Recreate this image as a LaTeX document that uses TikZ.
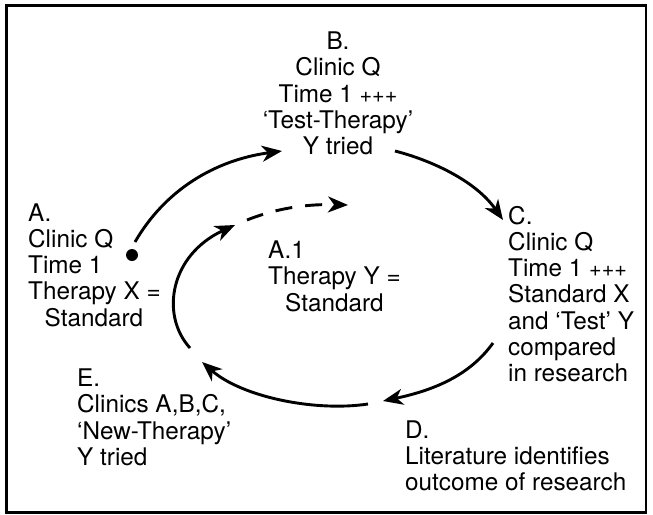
\documentclass[tikz,border=0pt]{standalone}
\usepackage{fontspec}
\setmainfont{TeX Gyre Heros}
\usetikzlibrary{arrows.meta}

\newcommand{\tripleplus}{{\fontsize{21.5}{21.5}\selectfont +++}}

\tikzset{
  txt/.style={inner sep=0pt, align=left, anchor=base west,
    font=\fontsize{24.3}{26.3}\selectfont},
  flow/.style={line width=2.9pt, -{Stealth[length=20pt,width=16pt,inset=6pt]}},
}

\begin{document}
\begin{tikzpicture}[x=1pt,y=-1pt]
  \useasboundingbox (0,0) rectangle (653,514);
  \draw[line width=2.5pt] (6.5,5.5) rectangle (646,512.5);

  % stages of the cycle (base = last line)
  \node[txt] (A) at (28,326.2) {A.\\Clinic Q\\Time 1\\Therapy X =\\\hspace*{0.68em}Standard};
  \node[txt, align=center, anchor=base] (B) at (338,154.7) {B.\\Clinic Q\\Time 1 \tripleplus\\‘Test-Therapy’\\Y tried};
  \node[txt] (C) at (508,381.8) {C.\\Clinic Q\\Time 1 \tripleplus\\Standard X\\and ‘Test’ Y\\compared\\in research};
  \node[txt] (D) at (405,490.6) {D.\\Literature identifies\\outcome of research};
  \node[txt] (E) at (77,465.4) {E.\\Clinics A,B,C,\\‘New-Therapy’\\Y tried};
  \node[txt] (A1) at (268,311.1) {A.1\\Therapy Y =\\\hspace*{0.7em}Standard};
  \node[circle, fill, inner sep=0pt, minimum size=12pt] (dot) at (132,255) {};

  % arrow ends
  \coordinate (a-out) at (135,242);
  \coordinate (b-in) at (282,151);
  \coordinate (b-out) at (395,151);
  \coordinate (c-in) at (503,220);
  \coordinate (c-out) at (493,343);
  \coordinate (d-in) at (383,401);
  \coordinate (d-out) at (368,404);
  \coordinate (e-in) at (202,362);
  \coordinate (e-out) at (190,348);
  \coordinate (a1-in) at (235,225);
  \coordinate (a1-out) at (247,220);
  \coordinate (a1-end) at (348,205);

  \draw[flow] (a-out) .. controls (165,190) and (215,160) .. (b-in);
  \draw[flow] (b-out) .. controls (430,160) and (475,180) .. (c-in);
  \draw[flow] (c-out) .. controls (470,375) and (435,390) .. (d-in);
  \draw[flow] (d-out) .. controls (315,412) and (242,397) .. (e-in);
  \draw[flow] (e-out) .. controls (160,315) and (170,255) .. (a1-in);
  \draw[flow, dash pattern=on 17pt off 13pt] (a1-out) .. controls (280,207) and (310,204) .. (a1-end);
\end{tikzpicture}
\end{document}
